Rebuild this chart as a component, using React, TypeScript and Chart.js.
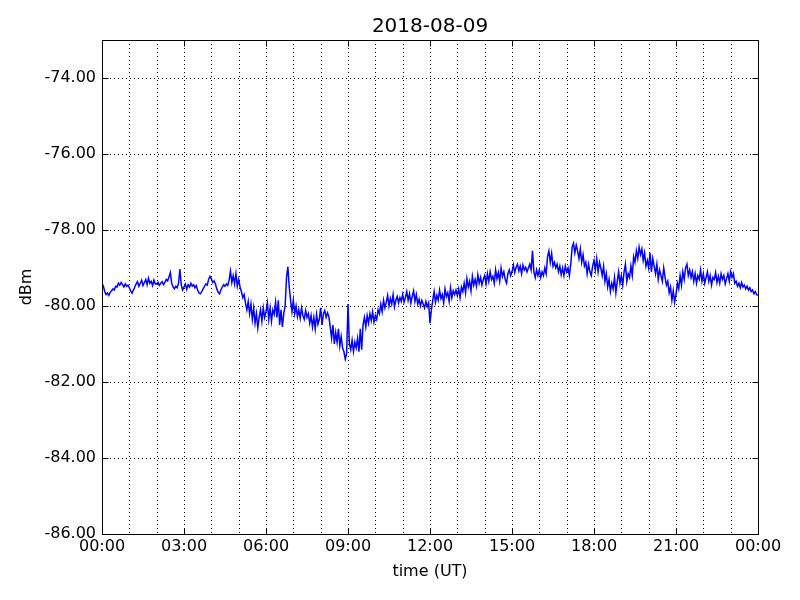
import React, { useEffect, useRef } from "react";
import { Chart, registerables } from "chart.js";

Chart.register(...registerables);

const TITLE = "2018-08-09";
const X_TITLE = "time (UT)";
const Y_TITLE = "dBm";

// sample spacing in minutes
const STEP_MIN = 3;

// signal level (dBm), one value every 3 minutes from 00:00 to 24:00
const dbm: number[] = [
  // 00h
  -79.40, -79.48, -79.62, -79.70, -79.66, -79.72, -79.64, -79.60, -79.55, -79.58, -79.48, -79.50, -79.40, -79.45, -79.38, -79.44, -79.50, -79.42, -79.48, -79.45,
  // 01h
  -79.52, -79.60, -79.66, -79.58, -79.50, -79.42, -79.36, -79.48, -79.40, -79.32, -79.46, -79.38, -79.30, -79.44, -79.27, -79.40, -79.35, -79.46, -79.32, -79.42,
  // 02h
  -79.42, -79.38, -79.46, -79.40, -79.36, -79.44, -79.38, -79.30, -79.34, -79.24, -79.12, -79.40, -79.50, -79.55, -79.48, -79.52, -79.40, -79.03, -79.45, -79.58,
  // 03h
  -79.50, -79.42, -79.56, -79.44, -79.50, -79.40, -79.48, -79.44, -79.52, -79.46, -79.58, -79.66, -79.68, -79.62, -79.55, -79.48, -79.42, -79.45, -79.30, -79.22,
  // 04h
  -79.28, -79.38, -79.34, -79.42, -79.55, -79.64, -79.68, -79.58, -79.50, -79.44, -79.48, -79.42, -79.46, -79.32, -79.08, -79.38, -79.20, -79.42, -79.15, -79.48,
  // 05h
  -79.30, -79.50, -79.62, -79.78, -79.70, -79.92, -80.10, -79.88, -80.20, -79.95, -80.35, -80.05, -80.45, -80.20, -80.58, -80.30, -80.10, -80.40, -80.05, -80.30,
  // 06h
  -80.15, -79.92, -80.35, -80.05, -80.40, -80.10, -80.22, -79.90, -80.30, -79.85, -80.50, -80.10, -80.55, -80.20, -80.00, -79.25, -78.97, -79.50, -79.85, -80.15,
  // 07h
  -79.85, -80.20, -80.00, -80.28, -80.10, -80.32, -80.05, -80.25, -80.35, -80.12, -80.30, -80.20, -80.45, -80.25, -80.55, -80.30, -80.60, -80.22, -80.48, -80.35,
  // 08h
  -80.05, -80.50, -80.20, -80.12, -80.30, -80.18, -80.28, -80.55, -80.85, -80.50, -81.00, -80.70, -80.95, -80.60, -81.05, -80.80, -81.10, -81.20, -81.40, -81.25,
  // 09h
  -79.95, -81.00, -81.15, -80.90, -81.20, -80.95, -81.10, -80.85, -81.20, -80.60, -81.15, -80.50, -80.30, -80.55, -80.25, -80.45, -80.20, -80.38, -80.15, -80.42,
  // 10h
  -80.25, -80.35, -80.10, -80.20, -79.95, -80.15, -79.85, -80.05, -79.90, -79.72, -80.00, -79.80, -79.95, -79.70, -80.02, -79.85, -79.75, -79.92, -79.78, -79.88,
  // 11h
  -79.70, -79.90, -79.78, -79.62, -79.85, -79.68, -79.92, -79.75, -79.60, -79.88, -79.70, -79.95, -79.82, -80.00, -79.85, -79.95, -80.05, -79.88, -80.02, -79.92,
  // 12h
  -80.45, -80.10, -79.85, -79.62, -79.90, -79.72, -79.85, -79.58, -79.80, -79.70, -79.92, -79.55, -79.75, -79.65, -79.88, -79.52, -79.78, -79.60, -79.70, -79.58,
  // 13h
  -79.72, -79.55, -79.78, -79.50, -79.62, -79.40, -79.65, -79.28, -79.50, -79.35, -79.60, -79.22, -79.45, -79.30, -79.48, -79.18, -79.40, -79.25, -79.45, -79.30,
  // 14h
  -79.20, -79.42, -79.15, -79.35, -79.10, -79.30, -79.22, -79.40, -79.05, -79.28, -79.12, -79.35, -79.00, -79.22, -79.10, -79.30, -79.40, -79.15, -79.05, -79.20,
  // 15h
  -79.10, -78.92, -79.12, -78.98, -78.90, -79.08, -78.95, -79.15, -78.92, -79.05, -78.98, -79.10, -79.00, -78.90, -79.05, -78.55, -79.10, -79.25, -79.05, -79.20,
  // 16h
  -79.05, -79.25, -79.10, -79.20, -79.00, -79.15, -78.70, -78.55, -78.85, -78.62, -78.95, -78.85, -79.00, -78.90, -79.10, -78.95, -79.18, -79.00, -79.20, -78.95,
  // 17h
  -79.10, -79.00, -79.20, -78.90, -78.45, -78.35, -78.60, -78.40, -78.55, -78.75, -78.50, -78.85, -78.65, -78.95, -78.85, -79.15, -78.90, -79.10, -79.20, -78.95,
  // 18h
  -78.80, -79.05, -78.75, -79.10, -78.85, -79.00, -79.20, -78.95, -79.35, -79.15, -79.50, -79.30, -79.62, -79.40, -79.55, -79.25, -79.65, -79.35, -79.10, -79.40,
  // 19h
  -79.20, -79.45, -79.10, -78.90, -79.35, -79.15, -79.25, -78.95, -79.20, -78.70, -78.85, -78.55, -78.75, -78.45, -78.65, -78.50, -78.80, -78.60, -78.95, -78.80,
  // 20h
  -79.00, -78.60, -79.10, -78.75, -78.95, -79.15, -78.90, -79.30, -79.05, -79.20, -79.35, -79.00, -79.25, -79.45, -79.35, -79.65, -79.50, -79.85, -79.60, -79.90,
  // 21h
  -79.70, -79.40, -79.55, -79.20, -79.45, -79.10, -79.30, -79.00, -78.90, -79.20, -79.05, -79.25, -79.10, -79.35, -79.15, -79.40, -79.20, -79.30, -79.05, -79.35,
  // 22h
  -79.15, -79.40, -79.25, -79.10, -79.35, -79.20, -79.45, -79.25, -79.30, -79.12, -79.38, -79.22, -79.40, -79.15, -79.30, -79.20, -79.42, -79.28, -79.15, -79.35,
  // 23h
  -79.10, -79.25, -79.15, -79.40, -79.35, -79.48, -79.40, -79.52, -79.38, -79.50, -79.45, -79.55, -79.48, -79.58, -79.52, -79.62, -79.58, -79.68, -79.62, -79.70,
  // 24h
  -79.72,
];

const xGridHours: number[] = Array.from({ length: 25 }, (_, i) => i);
const xMajorHours: number[] = [0, 3, 6, 9, 12, 15, 18, 21, 24];
const xMajorLabels: string[] = ["00:00", "03:00", "06:00", "09:00", "12:00", "15:00", "18:00", "21:00", "00:00"];
const yTicks: number[] = [-86, -84, -82, -80, -78, -76, -74];
const Y_MIN = -86;
const Y_MAX = -73;

const FONT = "'DejaVu Sans', 'Liberation Sans', sans-serif";

const framePlugin = {
  id: "frame",
  beforeDatasetsDraw(chart: any) {
    const { ctx, chartArea: a, scales } = chart;
    ctx.save();
    ctx.strokeStyle = "#000";
    ctx.lineWidth = 1;
    ctx.setLineDash([1, 3]);
    for (const h of xGridHours) {
      if (h === 0 || h === 24) continue;
      const x = Math.round(scales.x.getPixelForValue(h)) + 0.5;
      ctx.beginPath();
      ctx.moveTo(x, a.top);
      ctx.lineTo(x, a.bottom);
      ctx.stroke();
    }
    for (const v of yTicks) {
      if (v === Y_MIN) continue;
      const y = Math.round(scales.y.getPixelForValue(v)) + 0.5;
      ctx.beginPath();
      ctx.moveTo(a.left, y);
      ctx.lineTo(a.right, y);
      ctx.stroke();
    }
    ctx.restore();
  },
  afterDatasetsDraw(chart: any) {
    const { ctx, chartArea: a, scales } = chart;
    ctx.save();
    ctx.strokeStyle = "#000";
    ctx.lineWidth = 1;
    ctx.setLineDash([]);
    const L = Math.round(a.left) + 0.5;
    const R = Math.round(a.right) + 0.5;
    const T = Math.round(a.top) + 0.5;
    const B = Math.round(a.bottom) + 0.5;
    ctx.strokeRect(L, T, R - L, B - T);
    const tl = 6;
    for (const h of xMajorHours) {
      const x = Math.round(scales.x.getPixelForValue(h)) + 0.5;
      ctx.beginPath();
      ctx.moveTo(x, B);
      ctx.lineTo(x, B - tl);
      ctx.moveTo(x, T);
      ctx.lineTo(x, T + tl);
      ctx.stroke();
    }
    for (const v of yTicks) {
      const y = Math.round(scales.y.getPixelForValue(v)) + 0.5;
      ctx.beginPath();
      ctx.moveTo(L, y);
      ctx.lineTo(L + tl, y);
      ctx.moveTo(R, y);
      ctx.lineTo(R - tl, y);
      ctx.stroke();
    }
    ctx.fillStyle = "#000";
    ctx.textAlign = "center";
    ctx.textBaseline = "middle";
    ctx.font = `20px ${FONT}`;
    ctx.fillText(TITLE, (a.left + a.right) / 2, 27);
    ctx.font = `16px ${FONT}`;
    ctx.fillText(X_TITLE, (a.left + a.right) / 2, 572);
    ctx.translate(27, (a.top + a.bottom) / 2);
    ctx.rotate(-Math.PI / 2);
    ctx.fillText(Y_TITLE, 0, 0);
    ctx.restore();
  },
};

export default function App() {
  const ref = useRef<HTMLCanvasElement>(null);
  useEffect(() => {
    if (!ref.current) return;
    const points = dbm.map((v, i) => ({ x: (i * STEP_MIN) / 60, y: v }));
    const chart = new Chart(ref.current, {
      type: "line",
      data: {
        datasets: [
          {
            data: points,
            borderColor: "#0000ff",
            borderWidth: 1.5,
            pointRadius: 0,
            tension: 0,
            fill: false,
          },
        ],
      },
      options: {
        responsive: false,
        animation: false,
        layout: { padding: { top: 40, right: 42, bottom: 0, left: 0 } },
        plugins: { legend: { display: false }, title: { display: false }, tooltip: { enabled: false } },
        scales: {
          x: {
            type: "linear",
            min: 0,
            max: 24,
            grid: { display: false, drawTicks: false },
            border: { display: false },
            afterBuildTicks: (s: any) => {
              s.ticks = xMajorHours.map((v) => ({ value: v }));
            },
            afterFit: (s: any) => {
              s.height = 66;
            },
            ticks: {
              autoSkip: false,
              maxRotation: 0,
              padding: 3,
              color: "#000",
              font: { family: FONT, size: 16 },
              callback: (v: any) => {
                const i = xMajorHours.indexOf(Number(v));
                return i >= 0 ? xMajorLabels[i] : "";
              },
            },
          },
          y: {
            type: "linear",
            min: Y_MIN,
            max: Y_MAX,
            grid: { display: false, drawTicks: false },
            border: { display: false },
            afterBuildTicks: (s: any) => {
              s.ticks = yTicks.map((v) => ({ value: v }));
            },
            afterFit: (s: any) => {
              s.width = 102;
            },
            ticks: {
              autoSkip: false,
              padding: 6,
              color: "#000",
              font: { family: FONT, size: 16 },
              callback: (v: any) => Number(v).toFixed(2),
            },
          },
        },
      },
      plugins: [framePlugin],
    });
    return () => chart.destroy();
  }, []);
  return (
    <div style={{ position: "absolute", left: 0, top: 0, width: 800, height: 600, background: "#fff" }}>
      <canvas ref={ref} width={800} height={600} style={{ display: "block" }} />
    </div>
  );
}
